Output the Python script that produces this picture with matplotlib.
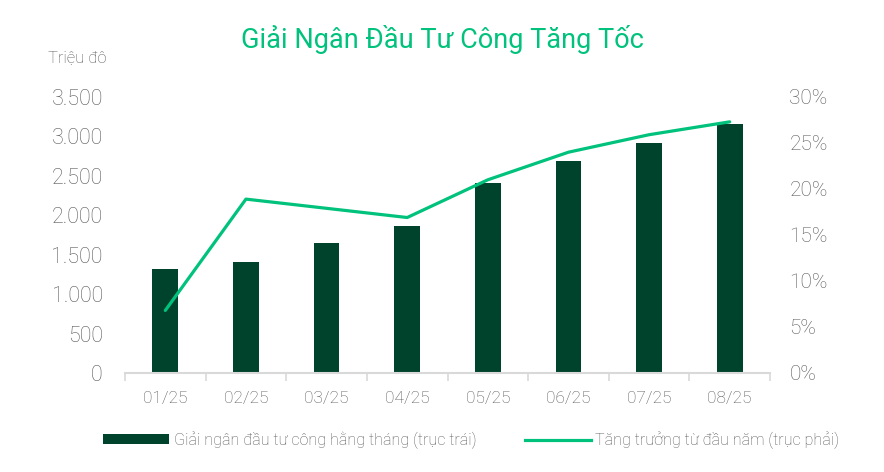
#!/usr/bin/env python3
"""Monthly public investment disbursement (bars) with YTD growth (line)."""

import matplotlib

matplotlib.use("Agg")
import matplotlib.pyplot as plt
from matplotlib.lines import Line2D
from matplotlib.patches import Patch
from matplotlib.ticker import FuncFormatter

plt.rcParams["font.family"] = ["Roboto", "DejaVu Sans"]

MONTHS = ["01/25", "02/25", "03/25", "04/25", "05/25", "06/25", "07/25", "08/25"]
DISBURSED = [1320, 1410, 1650, 1860, 2410, 2690, 2920, 3160]
YTD_GROWTH = [6.8, 18.9, 17.9, 16.9, 21.0, 24.0, 25.9, 27.3]

LEFT_TICKS = [0, 500, 1000, 1500, 2000, 2500, 3000, 3500]
RIGHT_TICKS = [0, 5, 10, 15, 20, 25, 30]

BAR_COLOR = "#00432c"
LINE_COLOR = "#00c27c"
TEXT_GRAY = "#595959"

TITLE = "Giải Ngân Đầu Tư Công Tăng Tốc"
UNIT_LABEL = "Triệu đô"
BAR_LABEL = "Giải ngân đầu tư công hằng tháng (trục trái)"
LINE_LABEL = "Tăng trưởng từ đầu năm (trục phải)"


def main() -> None:
    fig = plt.figure(figsize=(8.84, 4.72), dpi=100)
    ax = fig.add_axes([125 / 884, 1 - 373 / 472, 645 / 884, 276 / 472])
    ax2 = ax.twinx()

    x = list(range(len(MONTHS)))
    ax.bar(x, DISBURSED, width=0.32, color=BAR_COLOR, zorder=2)
    ax2.plot(x, YTD_GROWTH, color=LINE_COLOR, linewidth=2.3, solid_capstyle="round", zorder=3)

    ax.set_xlim(-0.5, len(MONTHS) - 0.5)
    ax.set_ylim(0, 3500)
    ax2.set_ylim(0, 30)

    ax.set_xticks(x)
    ax.set_xticklabels(MONTHS)
    ax.set_xticks([i - 0.5 for i in range(len(MONTHS) + 1)], minor=True)
    ax.tick_params(axis="x", which="major", length=0, pad=13, labelsize=12.5, labelcolor=TEXT_GRAY)
    ax.tick_params(axis="x", which="minor", length=6, width=1.2, color="#d9d9d9", direction="out")

    ax.set_yticks(LEFT_TICKS)
    ax.yaxis.set_major_formatter(FuncFormatter(lambda v, _: f"{int(v):,}".replace(",", ".")))
    ax.tick_params(axis="y", length=0, pad=16, labelsize=15.5, labelcolor=TEXT_GRAY)

    ax2.set_yticks(RIGHT_TICKS)
    ax2.yaxis.set_major_formatter(FuncFormatter(lambda v, _: f"{int(v)}%"))
    ax2.tick_params(axis="y", length=0, pad=14, labelsize=15, labelcolor=TEXT_GRAY)

    for a in (ax, ax2):
        for side in ("top", "left", "right", "bottom"):
            a.spines[side].set_visible(False)
    ax.spines["bottom"].set_visible(True)
    ax.spines["bottom"].set_color("#d9d9d9")
    ax.spines["bottom"].set_linewidth(1.5)

    for label in ax.get_yticklabels() + ax2.get_yticklabels() + ax.get_xticklabels():
        label.set_fontweight("light")

    fig.text(0.5, 1 - 40 / 472, TITLE, ha="center", va="center", fontsize=19.5,
             color=LINE_COLOR)
    fig.text(48 / 884, 1 - 58 / 472, UNIT_LABEL, ha="left", va="center", fontsize=12,
             color=TEXT_GRAY, fontweight="light")

    handles = [
        Patch(facecolor=BAR_COLOR, edgecolor="none"),
        Line2D([0], [0], color=LINE_COLOR, linewidth=2.3),
    ]
    leg = fig.legend(
        handles,
        [BAR_LABEL, LINE_LABEL],
        loc="center",
        bbox_to_anchor=(0.533, 1 - 440 / 472),
        ncol=2,
        frameon=False,
        fontsize=11.6,
        handlelength=4.1,
        handleheight=0.55,
        handletextpad=0.3,
        columnspacing=3.0,
    )
    for text in leg.get_texts():
        text.set_color(TEXT_GRAY)
        text.set_fontweight("light")

    fig.savefig("out.png", dpi=100, facecolor="white")
    plt.close(fig)


if __name__ == "__main__":
    main()
